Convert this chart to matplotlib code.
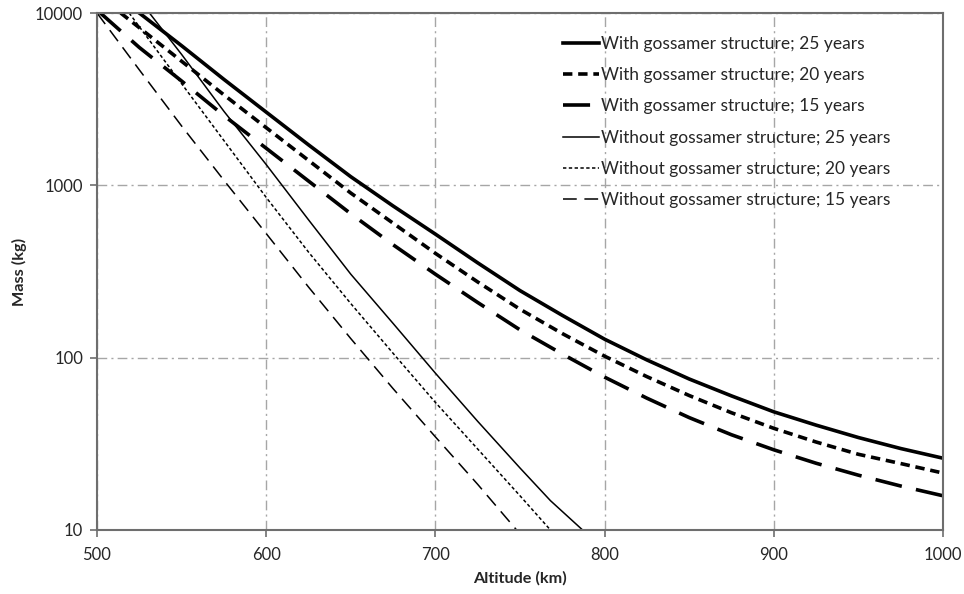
#### #### #### #### #### #### #### #### #### #### #### #### #### #### #### #### #### #### #### ####
### Import functions

import numpy as np
import matplotlib
matplotlib.use('Agg')
import matplotlib.pyplot as plt
from matplotlib.ticker import FixedLocator, NullLocator


#### #### #### #### #### #### #### #### #### #### #### #### #### #### #### #### #### #### #### ####
#### DATA

alt_with_25 = [525, 550, 575, 600, 625, 650, 675, 700, 725, 750, 775, 800, 825, 850, 875, 900, 925, 950, 975, 1000]
mass_with_25 = [10000, 6460, 4120, 2660, 1718, 1122, 759, 521, 355, 245, 176, 128, 97.0, 75.2, 60.0, 48.5, 40.6, 34.4, 29.7, 26.1]

alt_with_20 = [514, 525, 550, 575, 600, 625, 650, 675, 700, 725, 750, 775, 800, 825, 850, 875, 900, 925, 950, 975, 1000]
mass_with_20 = [10000, 8220, 5250, 3350, 2160, 1396, 902, 603, 403, 275, 191, 138, 102, 77.6, 60.3, 47.9, 38.9, 32.4, 27.5, 24.3, 21.4]

alt_with_15 = [502, 525, 550, 575, 600, 625, 650, 675, 700, 725, 750, 775, 800, 825, 850, 875, 900, 925, 950, 975, 1000]
mass_with_15 = [10000, 6310, 4030, 2540, 1641, 1059, 684, 452, 305, 209, 145, 105, 77.1, 58.2, 44.9, 35.7, 29.2, 24.4, 20.8, 18.0, 15.8]

alt_wo_25 = [531, 550, 575, 600, 625, 650, 675, 700, 725, 750, 768, 787]
mass_wo_25 = [10000, 5750, 2690, 1320, 631, 305, 158, 81.3, 42.7, 22.9, 14.8, 10]

alt_wo_20 = [519, 550, 575, 600, 625, 650, 675, 700, 725, 750, 768]
mass_wo_20 = [10000, 3890, 1820, 851, 410, 206, 106, 55.0, 29.5, 15.8, 10]

alt_wo_15 = [500, 525, 550, 575, 600, 625, 650, 675, 700, 725, 748]
mass_wo_15 = [10000, 4680, 2210, 1070, 525, 257, 129, 66.1, 34.7, 18.4, 10]

labels = ['With gossamer structure; 25 years',
          'With gossamer structure; 20 years',
          'With gossamer structure; 15 years',
          'Without gossamer structure; 25 years',
          'Without gossamer structure; 20 years',
          'Without gossamer structure; 15 years']

x_ticks = [500, 600, 700, 800, 900, 1000]
y_ticks = [10, 100, 1000, 10000]
y_ticklabels = ['10', '100', '1000', '10000']


#### #### #### #### #### #### #### #### #### #### #### #### #### #### #### #### #### #### #### ####
#### PLOT

plt.rcParams['font.family'] = ['Lato', 'DejaVu Sans']

text_color = '#262626'
grid_color = '#a6a6a6'
spine_color = '#6e6e6e'

fg = plt.figure(figsize=(9.64, 5.94), dpi=100)
ax = fg.add_axes([97/964., 1-530/594., (943-97)/964., (530-13)/594.])

ax.plot(alt_with_25, mass_with_25, color='k', lw=2.6, ls='-', label=labels[0])
ax.plot(alt_with_20, mass_with_20, color='k', lw=2.6, ls=(0, (2.6, 1.6)), label=labels[1])
ax.plot(alt_with_15, mass_with_15, color='k', lw=2.6, ls=(0, (7.5, 4.0)), label=labels[2])
ax.plot(alt_wo_25, mass_wo_25, color='k', lw=1.1, ls='-', label=labels[3])
ax.plot(alt_wo_20, mass_wo_20, color='k', lw=1.1, ls=(0, (2.2, 1.6)), label=labels[4])
ax.plot(alt_wo_15, mass_wo_15, color='k', lw=1.1, ls=(0, (9, 5)), label=labels[5])

ax.set_yscale('log')
ax.set_xlim(500, 1000)
ax.set_ylim(10, 10000)

ax.xaxis.set_major_locator(FixedLocator(x_ticks))
ax.yaxis.set_major_locator(FixedLocator(y_ticks))
ax.yaxis.set_minor_locator(NullLocator())
ax.set_yticklabels(y_ticklabels)

ax.grid(True, which='major', color=grid_color, lw=1.0, ls=(0, (7, 3, 1.5, 3)))
ax.set_axisbelow(True)

for sp in ax.spines.values():
	sp.set_color(spine_color)
	sp.set_linewidth(1.5)

ax.tick_params(axis='both', which='major', direction='out', length=5, width=1.2,
	color=spine_color, labelcolor=text_color, labelsize=12)
ax.tick_params(axis='x', pad=7)
ax.tick_params(axis='y', pad=5)

ax.set_xlabel('Altitude (km)', fontweight='bold', color=text_color, fontsize=11.7, labelpad=6)
ax.set_ylabel('Mass (kg)', fontweight='bold', color=text_color, fontsize=11.7, labelpad=6)

leg = ax.legend(loc='upper left', bbox_to_anchor=((556-97)/846., 1-16/517.), frameon=False,
	handlelength=2.07, handletextpad=0.1, labelspacing=0.88, borderaxespad=0, fontsize=12.5)
for t in leg.get_texts():
	t.set_color(text_color)

plt.savefig('out.png', dpi=100)
